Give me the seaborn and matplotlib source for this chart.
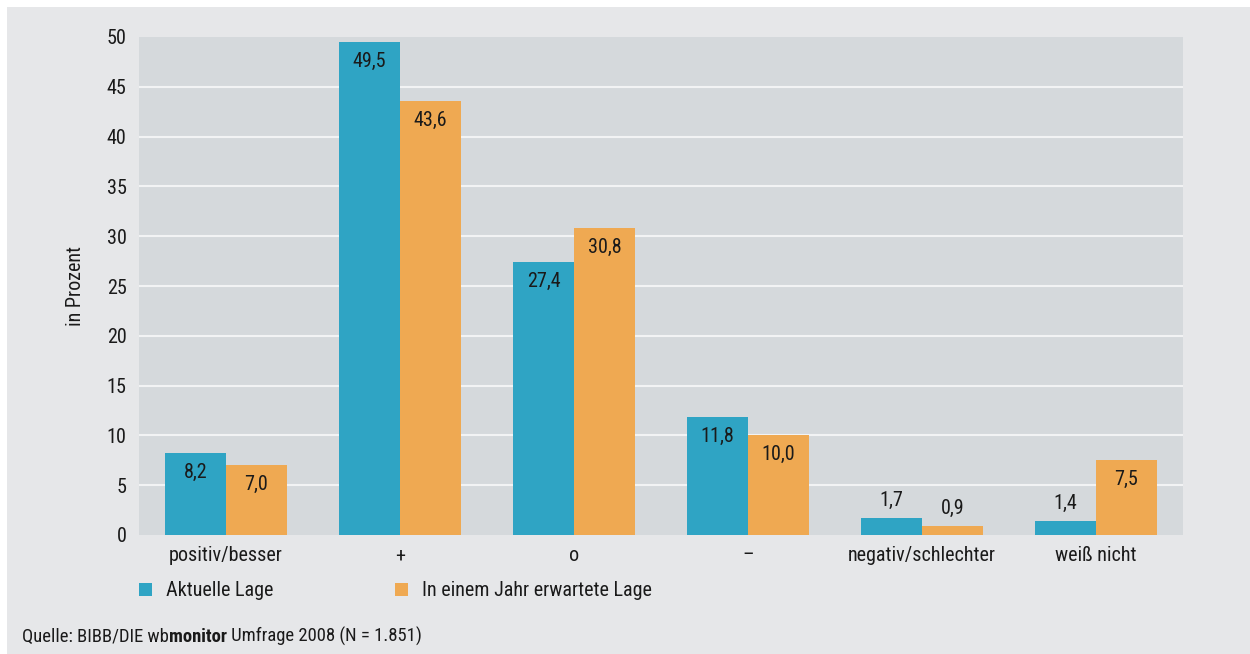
import matplotlib
matplotlib.use("Agg")
import matplotlib.pyplot as plt
import seaborn as sns
import pandas as pd
from matplotlib import font_manager
from matplotlib.patches import Patch

categories = ["positiv/besser", "+", "o", "–", "negativ/schlechter", "weiß nicht"]
aktuell = [8.2, 49.5, 27.4, 11.8, 1.7, 1.4]
erwartet = [7.0, 43.6, 30.8, 10.0, 0.9, 7.5]
series_names = ["Aktuelle Lage", "In einem Jahr erwartete Lage"]
yticks = [0, 5, 10, 15, 20, 25, 30, 35, 40, 45, 50]
source_parts = ["Quelle: BIBB/DIE wb", "monitor", " Umfrage 2008 (N = 1.851)"]

df = pd.DataFrame({
    "Kategorie": categories * 2,
    "Wert": aktuell + erwartet,
    "Serie": [series_names[0]] * len(categories) + [series_names[1]] * len(categories),
})

TEAL = "#2fa4c4"
ORANGE = "#efa952"
PLOT_BG = "#d5d9dc"
OUTER_BG = "#e6e7e9"
TXT = "#1a1a1a"

# pick a condensed family if one is installed
names = sorted({f.name for f in font_manager.fontManager.ttflist})
family = None
for pref in ["Roboto Condensed", "Liberation Sans Narrow", "Open Sans Condensed",
             "Noto Sans Condensed", "DejaVu Sans Condensed"]:
    if pref in names:
        family = pref
        break
if family is None:
    for n in names:
        if "Condensed" in n or "Narrow" in n:
            family = n
            break
if family is None:
    family = "Lato"
condensed = family != "Lato"

sns.set_theme(style="white")
plt.rcParams["font.family"] = [family, "DejaVu Sans"]
FS = 14.5 if condensed else 13

fig = plt.figure(figsize=(12.5, 6.54), dpi=100, facecolor="white")
bg = fig.add_axes([7 / 1250, 0, 1 - 7 / 1250, 1 - 7 / 654])
bg.set_facecolor(OUTER_BG)
bg.set_xticks([]); bg.set_yticks([])
for s in bg.spines.values():
    s.set_visible(False)
bg.set_zorder(-10)

ax = fig.add_axes([139 / 1250, 1 - 535 / 654, (1183 - 139) / 1250, (535 - 37) / 654])
ax.set_facecolor(PLOT_BG)

sns.barplot(data=df, x="Kategorie", y="Wert", hue="Serie", order=categories,
            hue_order=series_names, palette=[TEAL, ORANGE], width=0.7,
            saturation=1, ax=ax, legend=False, zorder=3,
            edgecolor="none", linewidth=0)

ax.set_xlim(-0.5, len(categories) - 0.5)
ax.set_ylim(0, 50)
ax.set_yticks(yticks)
ax.set_yticklabels([str(t) for t in yticks], fontsize=FS, color=TXT)
ax.set_xticks(range(len(categories)))
ax.set_xticklabels(categories, fontsize=FS, color=TXT)
ax.tick_params(axis="both", length=0)
ax.tick_params(axis="y", pad=9)
ax.tick_params(axis="x", pad=8)
ax.yaxis.grid(True, color="#f2f3f4", linewidth=1.5, zorder=0)
ax.set_axisbelow(True)
gl = ax.get_ygridlines()
gl[0].set_visible(False)
gl[-1].set_visible(False)
for s in ax.spines.values():
    s.set_visible(False)
ax.set_xlabel("")
ax.set_ylabel("in Prozent", fontsize=FS, color=TXT)
ax.yaxis.set_label_coords(-(139 - 85) / 1044, 0.5)

for cont in ax.containers:
    for bar in cont:
        v = bar.get_height()
        x = bar.get_x() + bar.get_width() / 2
        lab = f"{v:.1f}".replace(".", ",")
        if v >= 5:
            ax.annotate(lab, (x, v), xytext=(0, -7), textcoords="offset points",
                        ha="center", va="top", fontsize=FS, color=TXT, zorder=5)
        else:
            ax.annotate(lab, (x, v), xytext=(0, 6), textcoords="offset points",
                        ha="center", va="bottom", fontsize=FS, color=TXT, zorder=5)

# legend entries placed individually
colors = [TEAL, ORANGE]
lx = [139, 395]
for name, col, x0 in zip(series_names, colors, lx):
    leg = fig.legend([Patch(facecolor=col, edgecolor="none")], [name],
                     loc="center left", bbox_to_anchor=(x0 / 1250, 1 - 591 / 654),
                     frameon=False, fontsize=FS, handlelength=0.65, handleheight=0.65,
                     handletextpad=0.7, borderpad=0, borderaxespad=0, labelcolor=TXT)

# source line
SFS = 13.4 if condensed else 11.5
t1 = fig.text(22 / 1250, 1 - 646 / 654, source_parts[0], fontsize=SFS, color=TXT,
              ha="left", va="bottom")
t2 = ax.annotate(source_parts[1], xy=(1, 0), xycoords=t1, ha="left", va="bottom",
                 fontsize=SFS, fontweight="bold", color=TXT, annotation_clip=False)
t3 = ax.annotate(source_parts[2], xy=(1, 0), xycoords=t2, ha="left", va="bottom",
                 fontsize=SFS, color=TXT, annotation_clip=False)

fig.savefig("out.png", dpi=100, facecolor="white")
